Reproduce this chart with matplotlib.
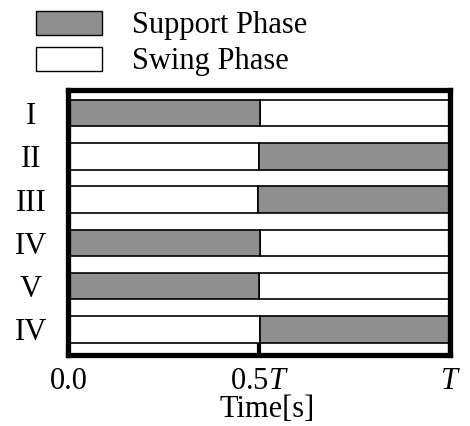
import matplotlib
matplotlib.use("Agg")
import matplotlib.pyplot as plt
from matplotlib.patches import Patch

# ---- data ----
legs = ["I", "II", "III", "IV", "V", "IV"]
support_start = [0.0, 0.500, 0.496, 0.0, 0.0, 0.503]
support_end = [0.502, 1.0, 1.0, 0.501, 0.500, 1.0]
period = 1.0
xtick_values = [0.0, 0.5, 1.0]
xtick_labels = ["0.0", "$0.5T$", "$T$"]
legend_labels = ["Support Phase", "Swing Phase"]

GRAY = "#8f8f8f"
FS = 22

plt.rcParams["font.family"] = ["Liberation Serif", "DejaVu Serif"]
plt.rcParams["mathtext.fontset"] = "custom"
plt.rcParams["mathtext.rm"] = "Liberation Serif"
plt.rcParams["mathtext.it"] = "Liberation Serif:italic"

fig = plt.figure(figsize=(4.70, 4.26), dpi=100)
ax = fig.add_axes([0.1457, 0.1667, 0.8117, 0.6232])

bar_h = 0.612
for i, (s, e) in enumerate(zip(support_start, support_end)):
    if s > 0:
        ax.barh(i, s, left=0.0, height=bar_h, color="white", edgecolor="black", linewidth=1.2)
    if e < period:
        ax.barh(i, period - e, left=e, height=bar_h, color="white", edgecolor="black", linewidth=1.2)
    ax.barh(i, e - s, left=s, height=bar_h, color=GRAY, edgecolor="black", linewidth=1.2)

ax.set_xlim(0, period)
ax.set_ylim(5.589, -0.543)
ax.set_yticks(range(len(legs)))
ax.set_yticklabels(legs, fontsize=FS)
for lbl in ax.get_yticklabels():
    lbl.set_horizontalalignment("center")
ax.tick_params(axis="y", length=0, pad=27)

ax.set_xticks(xtick_values)
ax.set_xticklabels(xtick_labels, fontsize=FS)
ax.tick_params(axis="x", direction="in", length=8.5, width=3, pad=9)
ax.set_xlabel("Time[s]", fontsize=FS)
ax.xaxis.set_label_coords(0.52, -0.152)

for sp in ax.spines.values():
    sp.set_linewidth(3.8)

handles = [Patch(facecolor=GRAY, edgecolor="black", linewidth=1.0),
           Patch(facecolor="white", edgecolor="black", linewidth=1.0)]
fig.legend(handles=handles, labels=legend_labels, loc="upper left",
           bbox_to_anchor=(36 / 470, 1 - 11 / 426), frameon=False, fontsize=FS,
           handlelength=66 / 30.6, handleheight=25 / 30.6, handletextpad=1.0,
           labelspacing=0.21, borderpad=0, borderaxespad=0)

fig.savefig("out.png", dpi=100)
